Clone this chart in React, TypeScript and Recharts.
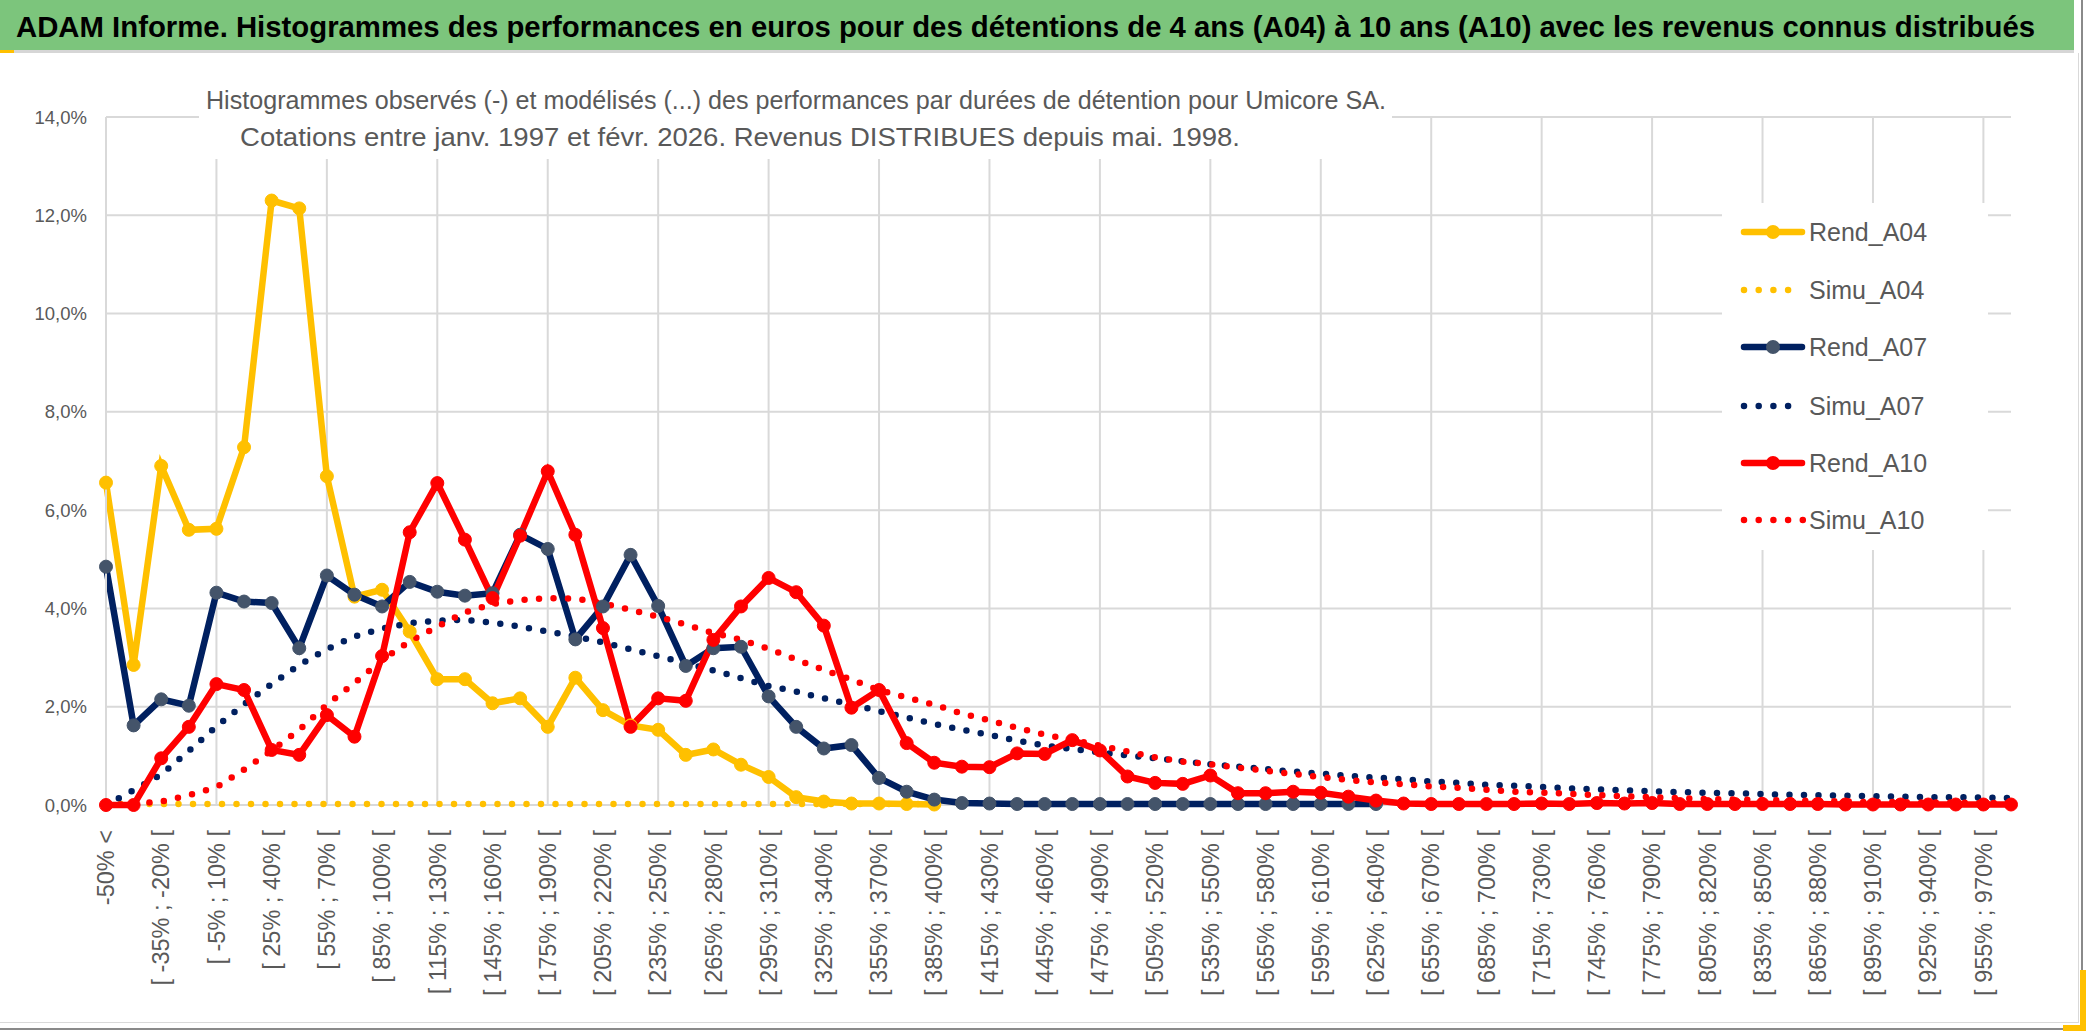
import React from 'react';
import { LineChart, Line, XAxis, YAxis, CartesianGrid } from 'recharts';

const FONT = "'Liberation Sans', Arial, sans-serif";
const NARROW = "'Liberation Sans Narrow', 'Liberation Sans', Arial, sans-serif";
const GREY = '#595959';
const GRID = '#d9d9d9';

// classes de performance : "-50% <" puis des tranches de 15 points
const categories: string[] = ['-50% <'];
for (let lo = -50; lo <= 970; lo += 15) categories.push(`[ ${lo}% ; ${lo + 15}% [`);

// valeurs en %
const rendA04 = [
  6.56, 2.85, 6.9, 5.6, 5.62, 7.28, 12.3, 12.14, 6.69, 4.24,
  4.38, 3.53, 2.56, 2.56, 2.07, 2.17, 1.59, 2.59, 1.93, 1.62,
  1.53, 1.02, 1.13, 0.82, 0.57, 0.16, 0.07, 0.03, 0.03, 0.02,
  0.01,
];
const simuA04 = [
  0.02, 0.02, 0.02, 0.02, 0.02, 0.02, 0.02, 0.02, 0.02, 0.02,
  0.02, 0.02, 0.02, 0.02, 0.02, 0.02, 0.02, 0.02, 0.02, 0.02,
  0.02, 0.02, 0.02, 0.02, 0.02, 0.02, 0.02, 0.02, 0.02, 0.02,
  0.02,
];
const rendA07 = [
  4.85, 1.62, 2.15, 2.02, 4.32, 4.14, 4.11, 3.19, 4.67, 4.28,
  4.04, 4.54, 4.34, 4.26, 4.31, 5.5, 5.21, 3.37, 4.04, 5.09,
  4.05, 2.83, 3.19, 3.22, 2.21, 1.59, 1.15, 1.22, 0.55, 0.27,
  0.11, 0.04, 0.03, 0.02, 0.02, 0.02, 0.02, 0.02, 0.02, 0.02,
  0.02, 0.02, 0.02, 0.02, 0.02, 0.02, 0.02,
];
const simuA07 = [
  0, 0.3, 0.62, 1.1, 1.6, 2.05, 2.46, 2.85, 3.17, 3.43,
  3.59, 3.7, 3.75, 3.77, 3.71, 3.63, 3.53, 3.43, 3.31, 3.17,
  3.03, 2.89, 2.74, 2.58, 2.42, 2.31, 2.17, 2.05, 1.91, 1.78,
  1.65, 1.53, 1.43, 1.31, 1.21, 1.14, 1.07, 1.01, 0.95, 0.89,
  0.83, 0.78, 0.73, 0.68, 0.64, 0.59, 0.56, 0.52, 0.48, 0.45,
  0.41, 0.39, 0.37, 0.34, 0.32, 0.3, 0.28, 0.26, 0.25, 0.24,
  0.22, 0.21, 0.2, 0.19, 0.18, 0.17, 0.16, 0.16, 0.15, 0.14,
];
const rendA10 = [
  0, 0, 0.95, 1.59, 2.46, 2.34, 1.12, 1.02, 1.83, 1.39,
  3.03, 5.55, 6.55, 5.4, 4.21, 5.48, 6.79, 5.5, 3.6, 1.59,
  2.17, 2.12, 3.36, 4.04, 4.62, 4.33, 3.65, 1.98, 2.34, 1.26,
  0.86, 0.78, 0.77, 1.05, 1.04, 1.32, 1.11, 0.58, 0.45, 0.43,
  0.6, 0.24, 0.24, 0.27, 0.25, 0.17, 0.09, 0.03, 0.02, 0.02,
  0.02, 0.02, 0.03, 0.02, 0.04, 0.03, 0.04, 0.02, 0.02, 0.02,
  0.02, 0.02, 0.02, 0.01, 0.01, 0.01, 0.01, 0.01, 0.01, 0.01,
];
const simuA10 = [
  0, 0.02, 0.07, 0.2, 0.36, 0.72, 1.11, 1.53, 2.04, 2.48,
  2.95, 3.33, 3.63, 3.92, 4.09, 4.17, 4.21, 4.2, 4.1, 3.97,
  3.83, 3.67, 3.5, 3.36, 3.18, 2.96, 2.75, 2.55, 2.34, 2.19,
  2.04, 1.86, 1.72, 1.57, 1.43, 1.32, 1.21, 1.09, 0.97, 0.88,
  0.83, 0.76, 0.7, 0.63, 0.57, 0.51, 0.46, 0.42, 0.38, 0.35,
  0.31, 0.27, 0.25, 0.23, 0.2, 0.18, 0.16, 0.14, 0.12, 0.11,
  0.1, 0.09, 0.08, 0.07, 0.06, 0.06, 0.05, 0.05, 0.04, 0.04,
];

const yTicks = [0, 2, 4, 6, 8, 10, 12, 14];

const series = [
  { key: 'Rend_A04', values: rendA04, color: '#FFC000', dotFill: '#FFC000', dotted: false },
  { key: 'Simu_A04', values: simuA04, color: '#FFC000', dotFill: '#FFC000', dotted: true },
  { key: 'Rend_A07', values: rendA07, color: '#002060', dotFill: '#44546A', dotted: false },
  { key: 'Simu_A07', values: simuA07, color: '#002060', dotFill: '#002060', dotted: true },
  { key: 'Rend_A10', values: rendA10, color: '#FF0000', dotFill: '#FF0000', dotted: false },
  { key: 'Simu_A10', values: simuA10, color: '#FF0000', dotFill: '#FF0000', dotted: true },
];

const rows = categories.map((cat, i) => {
  const row: any = { cat };
  series.forEach((s) => {
    row[s.key] = i < s.values.length ? s.values[i] : null;
  });
  return row;
});

const fmtPct = (v: number) => v.toFixed(1).replace('.', ',') + '%';

function XTick(props: any) {
  const { x, y, payload } = props;
  return (
    <text
      x={x}
      y={y}
      transform={`rotate(-90 ${x} ${y})`}
      textAnchor="end"
      dy="0.35em"
      fill={GREY}
      fontSize={23.5}
      fontFamily={FONT}
    >
      {payload.value}
    </text>
  );
}

function LegendBox() {
  const rowsY = [29, 87, 144, 203, 260, 317];
  return (
    <div style={{ position: 'absolute', left: 1722, top: 203, width: 266, height: 347, background: '#fff' }}>
      <svg width={266} height={347}>
        {series.map((s, i) => {
          const y = rowsY[i];
          return (
            <g key={s.key}>
              {s.dotted ? (
                <line
                  x1={22}
                  x2={s.key === 'Simu_A10' ? 81 : 68}
                  y1={y}
                  y2={y}
                  stroke={s.color}
                  strokeWidth={6.5}
                  strokeDasharray="0 14.7"
                  strokeLinecap="round"
                />
              ) : (
                <g>
                  <line x1={22} x2={80} y1={y} y2={y} stroke={s.color} strokeWidth={6.5} strokeLinecap="round" />
                  <circle cx={51} cy={y} r={7} fill={s.dotFill} />
                </g>
              )}
              <text x={87} y={y} dy="0.36em" fontSize={25} fill={GREY} fontFamily={FONT}>
                {s.key}
              </text>
            </g>
          );
        })}
      </svg>
    </div>
  );
}

export default function App() {
  return (
    <div style={{ position: 'absolute', left: 0, top: 0, width: 2086, height: 1031, background: '#fff', overflow: 'hidden' }}>
      <div style={{ position: 'absolute', left: 0, top: 0 }}>
        <LineChart width={2086} height={1031} data={rows} margin={{ top: 117, right: 75, bottom: 6, left: 0 }}>
          {/* axe caché qui porte le quadrillage vertical (une ligne toutes les 4 classes) */}
          <XAxis xAxisId="grid" dataKey="cat" hide interval={3} />
          <CartesianGrid xAxisId="grid" stroke={GRID} strokeWidth={2} syncWithTicks />
          <XAxis
            dataKey="cat"
            interval={1}
            tick={<XTick />}
            tickSize={0}
            tickMargin={25}
            height={220}
            axisLine={false}
            tickLine={false}
          />
          <YAxis
            domain={[0, 14]}
            ticks={yTicks}
            interval={0}
            tickFormatter={fmtPct}
            width={106}
            axisLine={{ stroke: GRID, strokeWidth: 2 }}
            tickLine={false}
            tickSize={0}
            tickMargin={19}
            tick={{ fill: GREY, fontSize: 18.5, fontFamily: FONT }}
          />
          {series.map((s) =>
            s.dotted ? (
              <Line
                key={s.key}
                dataKey={s.key}
                stroke={s.color}
                strokeWidth={6.5}
                strokeDasharray="0 14.5"
                strokeLinecap="round"
                dot={false}
                activeDot={false}
                isAnimationActive={false}
              />
            ) : (
              <Line
                key={s.key}
                dataKey={s.key}
                stroke={s.color}
                strokeWidth={6.5}
                dot={{ r: 6.5, fill: s.dotFill, stroke: s.dotFill, strokeWidth: 1 }}
                activeDot={false}
                isAnimationActive={false}
              />
            )
          )}
        </LineChart>
      </div>

      {/* bandeau titre */}
      <div style={{ position: 'absolute', left: 0, top: 0, width: 2074, height: 50, background: '#7cc57c' }}>
        <svg width={2074} height={50} style={{ overflow: 'visible' }}>
          <text
            x={16}
            y={37}
            fontSize={30}
            fontWeight={700}
            fill="#000"
            fontFamily={NARROW}
            textLength={2019}
            lengthAdjust="spacingAndGlyphs"
          >
            ADAM Informe. Histogrammes des performances en euros pour des détentions de 4 ans (A04) à 10 ans (A10) avec les revenus connus distribués
          </text>
        </svg>
      </div>
      <div style={{ position: 'absolute', left: 0, top: 50, width: 2074, height: 3, background: '#d6d6d6' }} />
      <div style={{ position: 'absolute', left: 0, top: 50, width: 14, height: 3, background: '#FFC000' }} />

      {/* sous-titre */}
      <div style={{ position: 'absolute', left: 199, top: 68, width: 1193, height: 91, background: '#fff' }}>
        <svg width={1193} height={91}>
          <text x={7} y={41} fontSize={25} fill={GREY} fontFamily={NARROW} textLength={1180} lengthAdjust="spacingAndGlyphs">
            Histogrammes observés (-) et modélisés (...) des performances par durées de détention pour Umicore SA.
          </text>
          <text x={41} y={78} fontSize={25} fill={GREY} fontFamily={NARROW} textLength={1000} lengthAdjust="spacingAndGlyphs">
            Cotations entre janv. 1997 et févr. 2026. Revenus DISTRIBUES depuis mai. 1998.
          </text>
        </svg>
      </div>

      <LegendBox />

      {/* cadre */}
      <div style={{ position: 'absolute', left: 2078, top: 53, width: 1, height: 969, background: GRID }} />
      <div style={{ position: 'absolute', left: 0, top: 1022, width: 2079, height: 1, background: GRID }} />
      <div style={{ position: 'absolute', left: 2081, top: 0, width: 2, height: 1031, background: '#8a8a8a' }} />
      <div style={{ position: 'absolute', left: 0, top: 1028, width: 2083, height: 2, background: '#8a8a8a' }} />
      <div style={{ position: 'absolute', left: 2080, top: 970, width: 6, height: 61, background: '#FFC000' }} />
      <div style={{ position: 'absolute', left: 2063, top: 1025, width: 23, height: 6, background: '#FFC000' }} />
    </div>
  );
}
